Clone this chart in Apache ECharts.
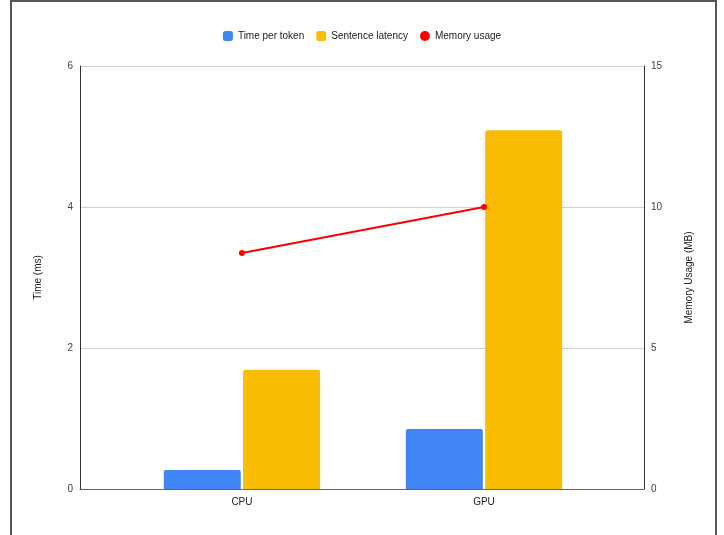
<!DOCTYPE html>
<html>
<head>
<meta charset="utf-8">
<script src="https://cdn.jsdelivr.net/npm/echarts@6/dist/echarts.min.js"></script>
<style>
html,body{margin:0;padding:0;background:#fff;}
#chart{width:724px;height:535px;}
</style>
</head>
<body>
<div id="chart"></div>
<script>
const categories = ['CPU', 'GPU'];
const timePerToken = [0.27, 0.85];
const sentenceLatency = [1.69, 5.09];
const memoryUsage = [8.37, 10.0];
const leftTicks = [0, 2, 4, 6];
const rightTicks = [0, 5, 10, 15];

const font = 'Liberation Sans, Arial, sans-serif';
const chart = echarts.init(document.getElementById('chart'), null, {renderer: 'canvas'});

const pos = categories.map((c, i) => i);
const option = {
  backgroundColor: '#fff',
  animation: false,
  textStyle: {fontFamily: font},
  legend: {
    top: 26,
    left: 'center',
    itemWidth: 10,
    itemHeight: 10,
    itemGap: 12,
    textStyle: {fontSize: 10, color: '#222', fontFamily: font},
    data: [
      {name: 'Time per token', icon: 'roundRect'},
      {name: 'Sentence latency', icon: 'roundRect'},
      {name: 'Memory usage', icon: 'circle'}
    ]
  },
  graphic: [{
    type: 'polyline',
    shape: {points: [[11, 540], [11, 1], [716, 1], [716, 540]]},
    style: {stroke: '#555', lineWidth: 2, fill: null},
    silent: true
  }],
  grid: {left: 80, right: 80, top: 66, bottom: 46},
  xAxis: {
    type: 'value',
    min: -0.669,
    max: 1.661,
    splitLine: {show: false},
    axisLine: {show: true, onZero: false, lineStyle: {color: '#666', width: 1}},
    axisTick: {show: false},
    axisLabel: {
      customValues: pos,
      formatter: v => categories[Math.round(v)],
      color: '#222', fontSize: 10, margin: 8, fontFamily: font
    }
  },
  yAxis: [{
    type: 'value',
    min: 0, max: 6, interval: 2,
    name: 'Time (ms)',
    nameLocation: 'middle',
    nameGap: 37,
    nameTextStyle: {color: '#222', fontSize: 10, fontFamily: font},
    axisLine: {show: true, onZero: false, lineStyle: {color: '#333'}},
    axisTick: {show: false},
    axisLabel: {color: '#444', fontSize: 10, margin: 7, fontFamily: font,
      formatter: v => leftTicks.includes(v) ? String(v) : ''},
    splitLine: {show: true, lineStyle: {color: '#d0d0d0'}}
  }, {
    type: 'value',
    min: 0, max: 15, interval: 5,
    name: 'Memory Usage (MB)',
    nameLocation: 'middle',
    nameGap: 40,
    nameTextStyle: {color: '#222', fontSize: 10, fontFamily: font},
    axisLine: {show: true, onZero: false, lineStyle: {color: '#333'}},
    axisTick: {show: false},
    axisLabel: {color: '#444', fontSize: 10, margin: 7, fontFamily: font,
      formatter: v => rightTicks.includes(v) ? String(v) : ''},
    splitLine: {show: false}
  }],
  series: [{
    name: 'Time per token',
    type: 'bar',
    yAxisIndex: 0,
    barWidth: 77,
    barGap: '3%',
    itemStyle: {color: '#4285F4', borderRadius: [2, 2, 0, 0]},
    data: pos.map((p, i) => [p, timePerToken[i]])
  }, {
    name: 'Sentence latency',
    type: 'bar',
    yAxisIndex: 0,
    barWidth: 77,
    barGap: '3%',
    itemStyle: {color: '#FBBC04', borderRadius: [2, 2, 0, 0]},
    data: pos.map((p, i) => [p, sentenceLatency[i]])
  }, {
    name: 'Memory usage',
    type: 'line',
    yAxisIndex: 1,
    symbol: 'circle',
    symbolSize: 6,
    lineStyle: {color: '#FF0000', width: 2},
    itemStyle: {color: '#FF0000'},
    data: pos.map((p, i) => [p, memoryUsage[i]])
  }]
};
chart.setOption(option);
</script>
</body>
</html>
